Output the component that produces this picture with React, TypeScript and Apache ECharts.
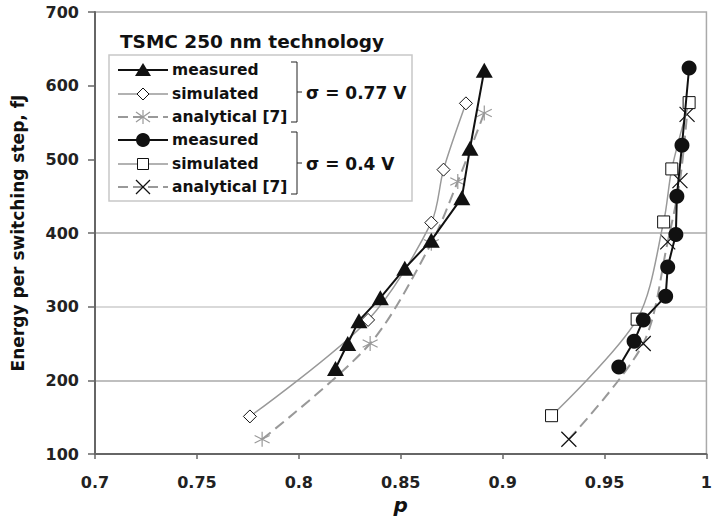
import React, { useEffect, useRef } from "react";
import * as echarts from "echarts";

// σ = 0.77 V group: [p, energy fJ]
const measured077: [number, number][] = [
  [0.818, 216], [0.824, 250], [0.8295, 281], [0.840, 312], [0.852, 352],
  [0.865, 390], [0.880, 448], [0.884, 515], [0.891, 621],
];
const simulated077: [number, number][] = [
  [0.776, 151], [0.834, 282], [0.865, 414], [0.871, 486], [0.882, 576],
];
const analytical077: [number, number][] = [
  [0.782, 120], [0.835, 250], [0.865, 386], [0.878, 470], [0.891, 563],
];
// σ = 0.4 V group
const measured04: [number, number][] = [
  [0.957, 218], [0.9645, 253], [0.969, 282], [0.980, 314], [0.981, 354],
  [0.985, 398], [0.9855, 450], [0.988, 519], [0.9915, 624],
];
const simulated04: [number, number][] = [
  [0.924, 152], [0.966, 283], [0.979, 415], [0.983, 487], [0.9915, 577],
];
const analytical04: [number, number][] = [
  [0.9325, 120], [0.969, 250], [0.981, 388], [0.987, 471], [0.9905, 561],
];

const legendLabels = ["measured", "simulated", "analytical [7]", "measured", "simulated", "analytical [7]"];
const groupLabels = ["σ = 0.77 V", "σ = 0.4 V"];
const chartTitle = "TSMC 250 nm technology";
const yTitle = "Energy per switching step, fJ";
const xTitle = "p";

const FONT = "'DejaVu Sans', Verdana, sans-serif";
const ASTERISK = "path://M5 0L5 10M0.7 2.5L9.3 7.5M9.3 2.5L0.7 7.5";
const XMARK = "path://M0 0L10 10M10 0L0 10";

export default function App() {
  const ref = useRef<HTMLDivElement>(null);
  useEffect(() => {
    if (!ref.current) return;
    const chart = echarts.init(ref.current, null, { renderer: "svg" });

    const lx0 = 118, lx1 = 168, mx = 143, tx = 172;
    const rows = [70, 94, 117, 140, 164, 187];
    const g: any[] = [];
    g.push({ type: "rect", shape: { x: 109, y: 55, width: 303, height: 146 }, style: { fill: "#fff", stroke: "#c8c8c8", lineWidth: 1.5 }, z: 10 });
    g.push({ type: "text", x: 120, y: 41, style: { text: chartTitle, font: `bold 18.5px ${FONT}`, fill: "#111", textVerticalAlign: "middle" }, z: 11 });
    const lineStyles = [
      { stroke: "#111", lineWidth: 2 },
      { stroke: "#999", lineWidth: 1.5 },
      { stroke: "#999", lineWidth: 2, lineDash: [10, 5] },
    ];
    rows.forEach((y, i) => {
      g.push({ type: "line", shape: { x1: lx0, y1: y, x2: lx1, y2: y }, style: { ...lineStyles[i % 3] }, z: 11 });
      g.push({ type: "text", x: tx, y: y, style: { text: legendLabels[i], font: `bold 15.5px ${FONT}`, fill: "#111", textVerticalAlign: "middle" }, z: 11 });
    });
    // markers
    g.push({ type: "polygon", shape: { points: [[mx, rows[0] - 7], [mx + 8, rows[0] + 6], [mx - 8, rows[0] + 6]] }, style: { fill: "#111" }, z: 12 });
    g.push({ type: "polygon", shape: { points: [[mx, rows[1] - 6], [mx + 6, rows[1]], [mx, rows[1] + 6], [mx - 6, rows[1]]] }, style: { fill: "#fff", stroke: "#111", lineWidth: 1 }, z: 12 });
    const ay = rows[2];
    g.push({ type: "line", shape: { x1: mx, y1: ay - 7, x2: mx, y2: ay + 7 }, style: { stroke: "#999", lineWidth: 1.2 }, z: 12 });
    g.push({ type: "line", shape: { x1: mx - 7, y1: ay - 5, x2: mx + 7, y2: ay + 5 }, style: { stroke: "#999", lineWidth: 1.2 }, z: 12 });
    g.push({ type: "line", shape: { x1: mx - 7, y1: ay + 5, x2: mx + 7, y2: ay - 5 }, style: { stroke: "#999", lineWidth: 1.2 }, z: 12 });
    g.push({ type: "circle", shape: { cx: mx, cy: rows[3], r: 7 }, style: { fill: "#111" }, z: 12 });
    g.push({ type: "rect", shape: { x: mx - 5.5, y: rows[4] - 5.5, width: 11, height: 11 }, style: { fill: "#fff", stroke: "#111", lineWidth: 1 }, z: 12 });
    const xy = rows[5];
    g.push({ type: "line", shape: { x1: mx - 7, y1: xy - 7, x2: mx + 7, y2: xy + 7 }, style: { stroke: "#111", lineWidth: 1.2 }, z: 12 });
    g.push({ type: "line", shape: { x1: mx - 7, y1: xy + 7, x2: mx + 7, y2: xy - 7 }, style: { stroke: "#111", lineWidth: 1.2 }, z: 12 });
    // brackets
    const brackets = [[62, 122], [132, 194]];
    brackets.forEach(([t, b], i) => {
      const bx = 297;
      const m = (t + b) / 2;
      g.push({ type: "polyline", shape: { points: [[291, t], [bx, t], [bx, b], [291, b]] }, style: { stroke: "#222", lineWidth: 1, fill: null }, z: 12 });
      g.push({ type: "line", shape: { x1: bx, y1: m, x2: bx + 5, y2: m }, style: { stroke: "#222", lineWidth: 1 }, z: 12 });
      g.push({ type: "text", x: 306, y: m + 1, style: { text: groupLabels[i], font: `bold 17px ${FONT}`, fill: "#111", textVerticalAlign: "middle" }, z: 12 });
    });

    const axisFont = { fontFamily: FONT, fontWeight: "bold" as const, fontSize: 16, color: "#222" };

    chart.setOption({
      animation: false,
      grid: { left: 95, right: 1, top: 12, bottom: 68, show: true, borderColor: "#aaa", borderWidth: 1.5 },
      xAxis: {
        type: "value", min: 0.7, max: 1.0, interval: 0.05,
        axisLine: { show: true, lineStyle: { color: "#666", width: 2 } },
        axisTick: { show: true, length: 5, lineStyle: { color: "#666", width: 1.5 } },
        axisLabel: { ...axisFont, margin: 20, formatter: (v: number) => String(parseFloat(v.toFixed(2))) },
        splitLine: { show: false },
        name: xTitle, nameLocation: "middle", nameGap: 40,
        nameTextStyle: { fontFamily: FONT, fontWeight: "bold", fontStyle: "italic", fontSize: 20, color: "#111" },
      },
      yAxis: {
        type: "value", min: 100, max: 700, interval: 100,
        axisLine: { show: true, lineStyle: { color: "#666", width: 2 } },
        axisTick: { show: true, length: 7, lineStyle: { color: "#666", width: 1.5 } },
        axisLabel: { ...axisFont, margin: 16 },
        splitLine: { show: true, lineStyle: { color: ["rgba(0,0,0,0)", "#aaa", "#ccc", "#aaa", "rgba(0,0,0,0)", "rgba(0,0,0,0)", "rgba(0,0,0,0)"], width: 1.5 } },
        name: yTitle, nameLocation: "middle", nameGap: 69,
        nameTextStyle: { fontFamily: FONT, fontWeight: "bold", fontSize: 17, color: "#111" },
      },
      graphic: g,
      series: [
        { type: "line", data: analytical077, smooth: 0.3, symbol: ASTERISK, symbolSize: 15, lineStyle: { color: "#999", width: 2, type: [11, 6] }, itemStyle: { color: "none", borderColor: "#999", borderWidth: 1.2 }, z: 2 },
        { type: "line", data: simulated077, smooth: 0.3, symbol: "diamond", symbolSize: 13, lineStyle: { color: "#999", width: 1.5 }, itemStyle: { color: "#fff", borderColor: "#111", borderWidth: 1 }, z: 3 },
        { type: "line", data: measured077, symbol: "triangle", symbolSize: [17, 15], lineStyle: { color: "#111", width: 2 }, itemStyle: { color: "#111" }, z: 4 },
        { type: "line", data: analytical04, smooth: 0.3, symbol: XMARK, symbolSize: 15, lineStyle: { color: "#999", width: 2, type: [11, 6] }, itemStyle: { color: "none", borderColor: "#111", borderWidth: 1.2 }, z: 2 },
        { type: "line", data: simulated04, smooth: 0.3, symbol: "rect", symbolSize: 12, lineStyle: { color: "#999", width: 1.5 }, itemStyle: { color: "#fff", borderColor: "#111", borderWidth: 1 }, z: 3 },
        { type: "line", data: measured04, symbol: "circle", symbolSize: 15, lineStyle: { color: "#111", width: 2 }, itemStyle: { color: "#111" }, z: 4 },
      ],
    });
    return () => chart.dispose();
  }, []);
  return <div ref={ref} style={{ position: "fixed", left: 0, top: 0, width: 715, height: 522, background: "#fff" }} />;
}
